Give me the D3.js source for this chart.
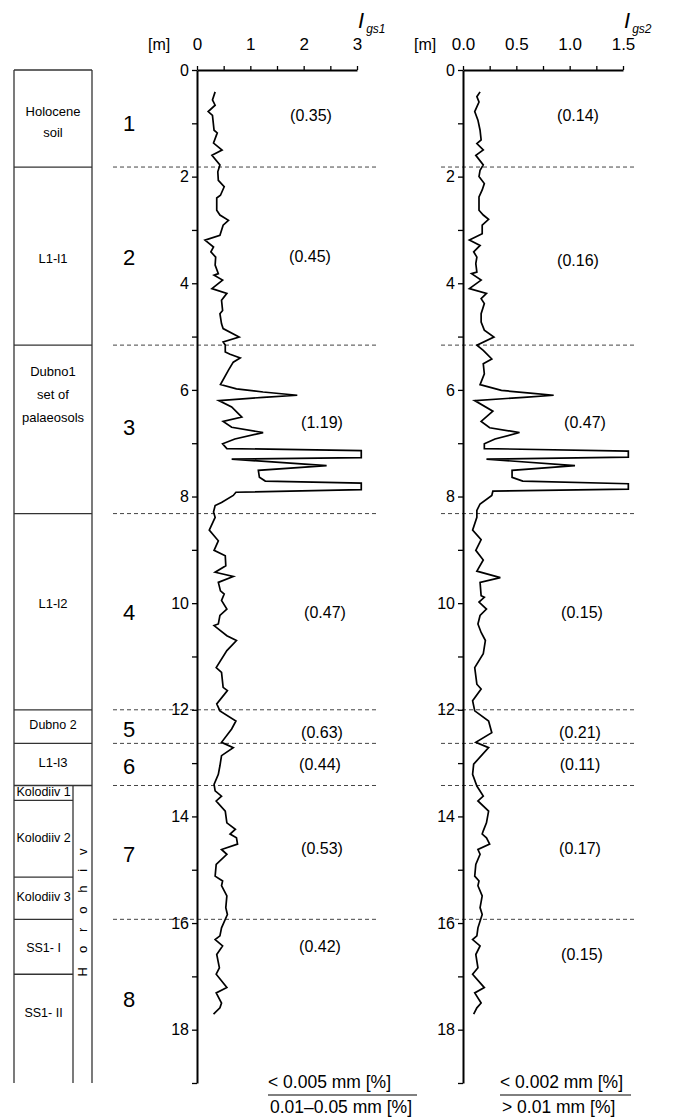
<!DOCTYPE html>
<html>
<head>
<meta charset="utf-8">
<script src="https://cdn.jsdelivr.net/npm/d3@7"></script>
<style>
body{margin:0;background:#fff;}
text{font-family:"Liberation Sans",Arial,sans-serif;fill:#000;}
</style>
</head>
<body>
<svg id="chart" width="674" height="1119"></svg>
<script>
//data

const igs1Depth = [0.41,0.56,0.66,0.78,0.85,1.13,1.18,1.37,1.50,1.60,1.78,1.91,2.07,2.19,2.35,2.40,2.63,2.72,2.82,2.91,
  3.10,3.19,3.32,3.41,3.51,3.66,3.82,3.85,3.94,4.10,4.19,4.32,4.51,4.57,4.76,4.85,5.01,5.10,5.16,5.29,
  5.33,5.40,5.48,5.63,5.90,5.98,6.04,6.10,6.14,6.20,6.32,6.51,6.59,6.70,6.80,6.92,7.01,7.10,7.14,7.27,
  7.30,7.42,7.51,7.64,7.71,7.75,7.87,7.92,7.98,8.11,8.17,8.29,8.39,8.63,8.83,9.01,9.11,9.30,9.42,9.50,
  9.61,9.77,9.83,9.95,10.11,10.23,10.39,10.42,10.61,10.70,10.89,11.21,11.30,11.58,11.64,11.89,12.02,12.21,12.36,12.61,
  12.71,12.86,13.05,13.21,13.40,13.52,13.62,13.71,13.90,14.12,14.24,14.33,14.40,14.52,14.62,14.71,14.90,15.12,15.21,15.30,
  15.49,15.71,15.84,16.09,16.24,16.31,16.43,16.59,16.84,16.96,17.21,17.31,17.50,17.59,17.71];
const igs1Values = [0.34,0.29,0.34,0.21,0.29,0.32,0.38,0.31,0.47,0.28,0.43,0.39,0.40,0.51,0.44,0.37,0.37,0.43,0.59,0.49,
  0.43,0.15,0.31,0.26,0.35,0.34,0.40,0.32,0.48,0.28,0.56,0.46,0.48,0.43,0.46,0.49,0.79,0.49,0.53,0.53,
  0.62,0.81,0.68,0.59,0.44,0.74,1.24,1.88,1.24,0.41,0.65,0.84,0.49,0.65,1.24,0.71,0.48,0.56,3.08,3.08,
  0.65,2.43,1.15,1.17,1.28,3.08,3.08,0.73,0.68,0.46,0.34,0.31,0.34,0.23,0.40,0.32,0.53,0.54,0.34,0.68,
  0.40,0.44,0.51,0.46,0.56,0.43,0.40,0.32,0.56,0.74,0.56,0.36,0.46,0.49,0.57,0.37,0.43,0.73,0.65,0.46,
  0.68,0.46,0.43,0.40,0.32,0.34,0.46,0.36,0.53,0.56,0.72,0.62,0.74,0.76,0.46,0.56,0.36,0.34,0.48,0.46,
  0.56,0.54,0.57,0.46,0.43,0.34,0.48,0.37,0.42,0.36,0.56,0.36,0.46,0.43,0.31];

const igs2Depth = [0.41,0.50,0.60,0.78,0.94,1.13,1.31,1.38,1.50,1.60,1.78,1.88,2.00,2.13,2.25,2.38,2.63,2.72,2.80,2.91,
  3.07,3.19,3.29,3.41,3.51,3.63,3.79,3.82,3.94,4.10,4.19,4.29,4.38,4.57,4.73,4.88,5.01,5.16,5.26,5.42,
  5.51,5.70,5.90,6.01,6.06,6.10,6.14,6.20,6.40,6.59,6.71,6.80,6.92,7.01,7.10,7.15,7.26,7.30,7.42,7.51,
  7.64,7.71,7.76,7.86,7.90,7.98,8.14,8.26,8.39,8.63,8.81,9.01,9.19,9.40,9.52,9.61,9.86,9.89,9.98,10.11,
  10.23,10.39,10.55,10.70,10.95,11.21,11.52,11.61,11.83,12.02,12.21,12.43,12.61,12.71,13.02,13.21,13.43,13.62,13.71,13.90,
  14.12,14.27,14.33,14.40,14.52,14.62,14.71,14.90,15.12,15.21,15.30,15.49,15.71,15.84,16.09,16.24,16.31,16.43,16.59,16.84,
  16.96,17.21,17.31,17.50,17.59,17.71];
const igs2Values = [0.16,0.13,0.15,0.11,0.14,0.16,0.17,0.13,0.19,0.12,0.19,0.16,0.15,0.20,0.18,0.15,0.15,0.19,0.24,0.18,
  0.18,0.06,0.16,0.10,0.13,0.12,0.13,0.08,0.17,0.06,0.22,0.17,0.20,0.17,0.17,0.20,0.29,0.13,0.19,0.27,
  0.19,0.20,0.16,0.36,0.63,0.85,0.57,0.11,0.28,0.17,0.25,0.53,0.30,0.20,0.20,1.55,1.55,0.22,1.05,0.46,
  0.46,0.56,1.55,1.55,0.28,0.27,0.16,0.13,0.13,0.09,0.17,0.12,0.19,0.13,0.35,0.16,0.17,0.20,0.15,0.22,
  0.16,0.14,0.17,0.21,0.19,0.11,0.13,0.17,0.09,0.11,0.24,0.27,0.12,0.24,0.10,0.09,0.13,0.19,0.14,0.24,
  0.22,0.19,0.18,0.22,0.25,0.14,0.16,0.12,0.11,0.15,0.14,0.18,0.16,0.18,0.14,0.13,0.09,0.16,0.12,0.14,
  0.09,0.20,0.11,0.17,0.13,0.10];

// unit boundaries (dashed) and unit labels
const unitBoundaries = [1.82,5.16,8.32,12.0,12.63,13.42,15.93];
const unitNames = ["1","2","3","4","5","6","7","8"];
const unitLabelDepth = [1.14,3.66,6.85,10.31,12.51,13.20,14.85,17.57];
const meanIgs1 = ["0.35","0.45","1.19","0.47","0.63","0.44","0.53","0.42"];
const meanIgs2 = ["0.14","0.16","0.47","0.15","0.21","0.11","0.17","0.15"];
const mean1Depth = [0.96,3.60,6.71,10.28,12.53,13.13,14.70,16.54];
const mean2Depth = [0.96,3.68,6.71,10.28,12.53,13.13,14.70,16.69];

// stratigraphic column
const layerNames = [["Holocene","soil"],["L1-l1"],["Dubno1","set of","palaeosols"],["L1-l2"],["Dubno 2"],["L1-l3"],
  ["Kolodiiv 1"],["Kolodiiv 2"],["Kolodiiv 3"],["SS1- I"],["SS1- II"]];
const layerTop = [0,1.82,5.16,8.32,12.0,12.63,13.42,13.70,15.14,15.93,16.96];
const layerBottom = [1.82,5.16,8.32,12.0,12.63,13.42,13.70,15.14,15.93,16.96,19];
const layerLabelDepth = [0.98,3.54,6.08,10.0,12.28,12.99,13.54,14.40,15.51,16.45,17.67];
const horohivTop = 13.42;

const xTicks1 = [0,0.5,1,1.5,2,2.5,3];
const xTicks2 = [0,0.25,0.5,0.75,1,1.25,1.5];

//layout

const svg = d3.select("#chart");

const y = d3.scaleLinear().domain([0,19]).range([70,1083]);
const x1 = d3.scaleLinear().domain([0,3]).range([197,357]);
const x2 = d3.scaleLinear().domain([0,1.5]).range([463,623]);

// strat column
const colL = 14, colR = 92, colMid = 73;
const strat = svg.append("g").attr("stroke","#333").attr("stroke-width",1.3);

strat.append("line").attr("x1",colL).attr("x2",colR).attr("y1",y(0)).attr("y2",y(0));
strat.append("line").attr("x1",colL).attr("x2",colL).attr("y1",y(0)).attr("y2",y(19));
strat.append("line").attr("x1",colR).attr("x2",colR).attr("y1",y(0)).attr("y2",y(19));
strat.append("line").attr("x1",colMid).attr("x2",colMid).attr("y1",y(horohivTop)).attr("y2",y(19));

strat.selectAll(".bnd")
  .data(layerBottom.slice(0,-1))
  .enter().append("line")
  .attr("x1",colL)
  .attr("x2",d => d > horohivTop ? colMid : colR)
  .attr("y1",d => y(d))
  .attr("y2",d => y(d));

layerNames.forEach((lines,i) => {
  const inner = layerTop[i] >= horohivTop;
  const cx = inner ? (colL+colMid)/2 : (colL+colR)/2;
  const fs = (inner || lines[0] === "Dubno 2") ? 12.5 : 13;
  const lh = lines.length === 3 ? 23 : 21;
  const c = y(layerLabelDepth[i]);
  lines.forEach((t,j) => {
    svg.append("text")
      .attr("x",cx)
      .attr("y",c + (j - (lines.length-1)/2)*lh + fs*0.36)
      .attr("text-anchor","middle")
      .style("font-size",fs+"px")
      .text(t);
  });
});

svg.append("text")
  .attr("transform",`translate(${(colMid+colR)/2+4},${y(15.8)}) rotate(-90)`)
  .attr("text-anchor","middle")
  .attr("textLength",128)
  .attr("lengthAdjust","spacing")
  .style("font-size","13px")
  .text("Horohiv");

// dashed unit boundaries
svg.selectAll(".dash1")
  .data(unitBoundaries)
  .enter().append("line")
  .attr("x1",113).attr("x2",376)
  .attr("y1",d => y(d)).attr("y2",d => y(d))
  .attr("stroke","#444").attr("stroke-width",1).attr("stroke-dasharray","4,3");

svg.selectAll(".dash2")
  .data(unitBoundaries)
  .enter().append("line")
  .attr("x1",441).attr("x2",634)
  .attr("y1",d => y(d)).attr("y2",d => y(d))
  .attr("stroke","#444").attr("stroke-width",1).attr("stroke-dasharray","4,3");

// unit numbers
svg.selectAll(".unit")
  .data(unitNames)
  .enter().append("text")
  .attr("x",123)
  .attr("y",(d,i) => y(unitLabelDepth[i]))
  .style("font-size","22px")
  .text(d => d);

// panels
function panel(x, ticks, fmt, depth, values, means, meanDepth, meanX, sub){

  const gY = svg.append("g").attr("transform",`translate(${x.range()[0]},0)`);
  gY.call(d3.axisLeft(y)
            .tickValues(d3.range(0,20,1))
            .tickSize(5)
            .tickSizeOuter(0)
            .tickPadding(3)
            .tickFormat(d => d % 2 === 0 ? d : ""));

  const gX = svg.append("g").attr("transform",`translate(0,${y(0)})`);
  gX.call(d3.axisTop(x)
            .tickValues(ticks)
            .tickSize(4)
            .tickSizeOuter(0)
            .tickPadding(16)
            .tickFormat(fmt));

  [gX,gY].forEach(g => {
    g.select(".domain").attr("stroke","#000").attr("stroke-width",2);
    g.selectAll(".tick line").attr("stroke","#000").attr("stroke-width",1.3);
    g.selectAll("text").style("font-family",'"Liberation Sans",Arial,sans-serif').attr("fill","#000");
  });
  gX.selectAll("text").style("font-size","17px");
  gY.selectAll("text").style("font-size","16px");

  svg.append("text")
    .attr("x",x.range()[0]-49)
    .attr("y",50)
    .style("font-size","16px")
    .text("[m]");

  const line = d3.line()
                 .x(d => x(d[1]))
                 .y(d => y(d[0]));

  svg.append("path")
    .datum(depth.map((d,i) => [d, values[i]]))
    .attr("d",line)
    .attr("fill","none")
    .attr("stroke","#000")
    .attr("stroke-width",1.7)
    .attr("stroke-linejoin","miter");

  svg.selectAll(null)
    .data(means)
    .enter().append("text")
    .attr("x",(d,i) => meanX[i])
    .attr("y",(d,i) => y(meanDepth[i]))
    .attr("text-anchor","middle")
    .style("font-size","16px")
    .text(d => "(" + d + ")");

  const t = svg.append("text")
    .attr("x",x.range()[1]+1)
    .attr("y",28)
    .style("font-style","italic");
  t.append("tspan").style("font-size","22px").text("I");
  t.append("tspan").attr("dy",5).attr("dx",2).style("font-size","12px").text(sub);
}

panel(x1, xTicks1, d => Number.isInteger(d) ? d : "", igs1Depth, igs1Values, meanIgs1, mean1Depth,
      [311,310,322,325,322,320,322,320], "gs1");
panel(x2, xTicks2, d => (d*2) % 1 === 0 ? d.toFixed(1) : "", igs2Depth, igs2Values, meanIgs2, mean2Depth,
      [578,578,585,582,580,580,580,582], "gs2");

// bottom fractions
function fraction(x0, x1b, top, bottom){
  svg.append("text").attr("x",x0).attr("y",1088).style("font-size","17.5px").text(top);
  svg.append("line").attr("x1",x0).attr("x2",x1b).attr("y1",1095).attr("y2",1095)
     .attr("stroke","#000").attr("stroke-width",1);
  svg.append("text").attr("x",x0+2).attr("y",1113).style("font-size","17.5px").text(bottom);
}
fraction(268, 417, "< 0.005 mm [%]", "0.01\u20130.05 mm [%]");
fraction(500, 631, "< 0.002 mm [%]", "> 0.01 mm [%]");
</script>
</body>
</html>
